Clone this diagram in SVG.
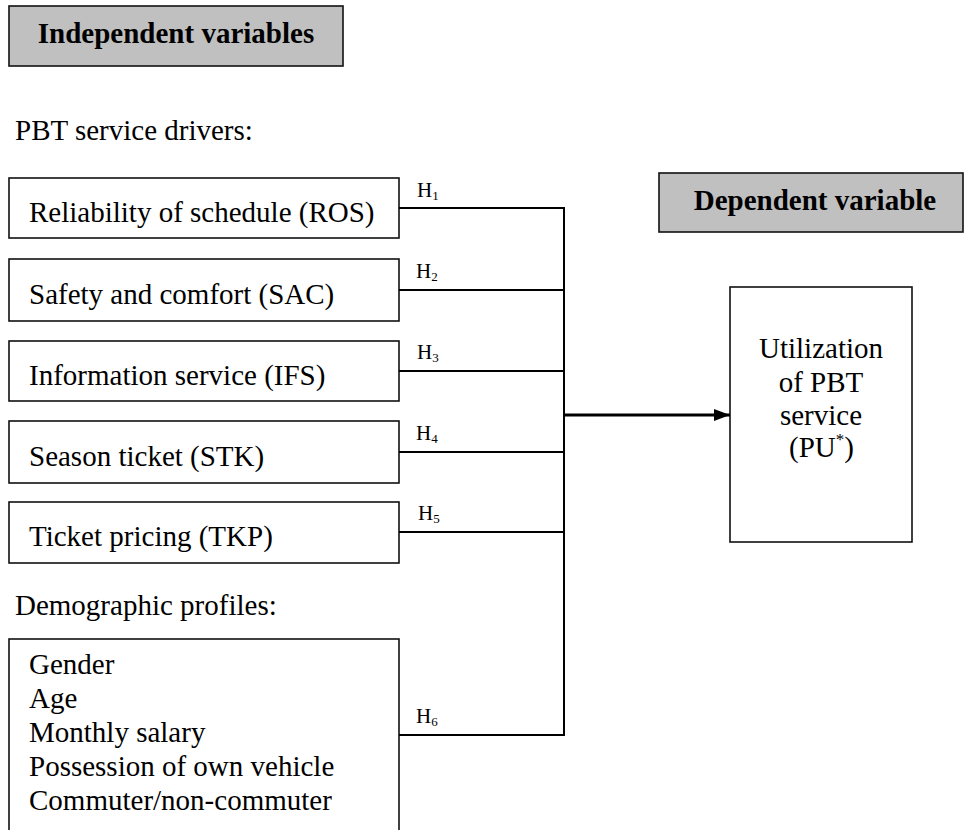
<svg xmlns="http://www.w3.org/2000/svg" width="964" height="830" viewBox="0 0 964 830">
<defs>
<style>
.box{fill:#ffffff;stroke:#111;stroke-width:1.6}
.hdr{fill:#c0c0c0;stroke:#111;stroke-width:1.6}
.t{font-family:"Liberation Serif","Times New Roman",serif;font-size:29px;fill:#000}
.b{font-family:"Liberation Serif","Times New Roman",serif;font-size:29px;font-weight:bold;fill:#000}
.h{font-family:"Liberation Serif","Times New Roman",serif;font-size:21px;fill:#000}
.c{fill:none;stroke:#000;stroke-width:2}
.mid{text-anchor:middle}
</style>
<marker id="arr" markerWidth="16" markerHeight="12" refX="16" refY="6" orient="auto" markerUnits="userSpaceOnUse">
<path d="M0,0 L16,6 L0,12 Z" fill="#000"/>
</marker>
</defs>
<rect width="964" height="830" fill="#ffffff"/>

<g id="independent-header">
<rect class="hdr" x="9" y="6" width="334" height="60"/>
<text class="b" x="176" y="43" text-anchor="middle">Independent variables</text>
</g>

<text class="t" x="15" y="140">PBT service drivers:</text>

<g id="ros">
<rect class="box" x="9" y="178" width="390" height="60"/>
<text class="t" x="29" y="222">Reliability of schedule (ROS)</text>
</g>
<g id="sac">
<rect class="box" x="9" y="259" width="390" height="62"/>
<text class="t" x="29" y="304">Safety and comfort (SAC)</text>
</g>
<g id="ifs">
<rect class="box" x="9" y="341" width="390" height="60"/>
<text class="t" x="29" y="385">Information service (IFS)</text>
</g>
<g id="stk">
<rect class="box" x="9" y="421" width="390" height="62"/>
<text class="t" x="29" y="466">Season ticket (STK)</text>
</g>
<g id="tkp">
<rect class="box" x="9" y="502" width="390" height="61"/>
<text class="t" x="29" y="546">Ticket pricing (TKP)</text>
</g>

<text class="t" x="15" y="615">Demographic profiles:</text>

<g id="demographics">
<rect class="box" x="9" y="639" width="390" height="210"/>
<text class="t" x="29" y="674">Gender</text>
<text class="t" x="29" y="708">Age</text>
<text class="t" x="29" y="742">Monthly salary</text>
<text class="t" x="29" y="776">Possession of own vehicle</text>
<text class="t" x="29" y="810">Commuter/non-commuter</text>
</g>

<g id="dependent-header">
<rect class="hdr" x="659" y="173" width="304" height="59"/>
<text class="b" x="815" y="210" text-anchor="middle">Dependent variable</text>
</g>

<g id="pu">
<rect class="box" x="730" y="287" width="182" height="255"/>
<text class="t mid" x="821" y="358">Utilization</text>
<text class="t mid" x="821" y="392">of PBT</text>
<text class="t mid" x="821" y="425">service</text>
<text class="t" x="789" y="457">(PU<tspan font-size="17" dy="-12">*</tspan><tspan dy="12">)</tspan></text>
</g>

<g id="connectors">
<path class="c" d="M399,208 H564 M399,290 H564 M399,371 H564 M399,452 H564 M399,532 H564 M399,735 H564 M564,207 V736"/>
<line x1="564" y1="415" x2="730" y2="415" stroke="#000" stroke-width="3" marker-end="url(#arr)"/>
<text class="h" x="417" y="197">H<tspan font-size="13" dy="3">1</tspan></text>
<text class="h" x="416" y="278">H<tspan font-size="13" dy="3">2</tspan></text>
<text class="h" x="417" y="359">H<tspan font-size="13" dy="3">3</tspan></text>
<text class="h" x="416" y="440">H<tspan font-size="13" dy="3">4</tspan></text>
<text class="h" x="418" y="520">H<tspan font-size="13" dy="3">5</tspan></text>
<text class="h" x="416" y="723">H<tspan font-size="13" dy="3">6</tspan></text>
</g>
</svg>
